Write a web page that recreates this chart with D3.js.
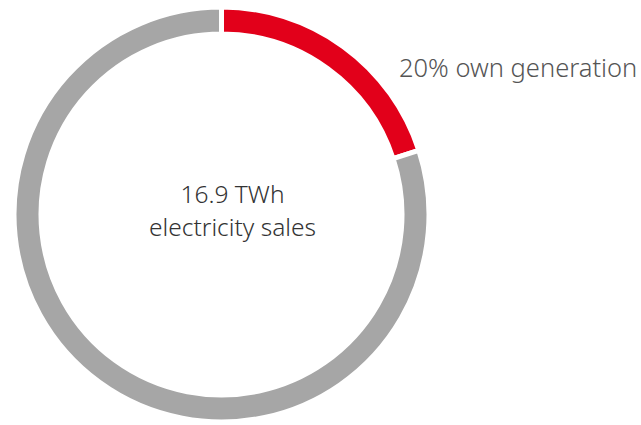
<!DOCTYPE html>
<html>
<head>
<meta charset="utf-8">
<script src="https://cdn.jsdelivr.net/npm/d3@7"></script>
<style>
  html, body { margin: 0; padding: 0; background: #fff; }
  svg { display: block; }
  text { font-family: "Noto Sans", "Open Sans", sans-serif; font-weight: 300; }
</style>
</head>
<body>
<svg id="chart" width="641" height="425"></svg>
<script>
// Share of electricity sales, in percent
const categories = ["own generation", "other sources"];
const shares = [20, 80];
const colors = ["#e2001a", "#a6a6a6"];
const centerLines = ["16.9 TWh", "electricity sales"];
const sliceLabel = "20% own generation";

const svg = d3.select("#chart");
const cx = 221.5, cy = 214.5;
const outerR = 207.5, innerR = 180.5;

const pie = d3.pie().sort(null).value(d => d.value);
const arcs = pie(categories.map((c, i) => ({ name: c, value: shares[i] })));
const arc = d3.arc().innerRadius(innerR).outerRadius(outerR);

const g = svg.append("g").attr("transform", `translate(${cx},${cy})`);

g.selectAll("path")
  .data(arcs)
  .join("path")
  .attr("d", arc)
  .attr("fill", (d, i) => colors[i])
  .attr("stroke", "#fff")
  .attr("stroke-width", 5);

g.append("text")
  .attr("text-anchor", "middle")
  .attr("font-size", 24.5)
  .attr("fill", "#333")
  .selectAll("tspan")
  .data(centerLines)
  .join("tspan")
  .attr("x", 11)
  .attr("y", (d, i) => -12 + i * 33)
  .text(d => d);

svg.append("text")
  .attr("x", 399)
  .attr("y", 77)
  .attr("font-size", 25.5)
  .attr("fill", "#555")
  .text(sliceLabel);
</script>
</body>
</html>
